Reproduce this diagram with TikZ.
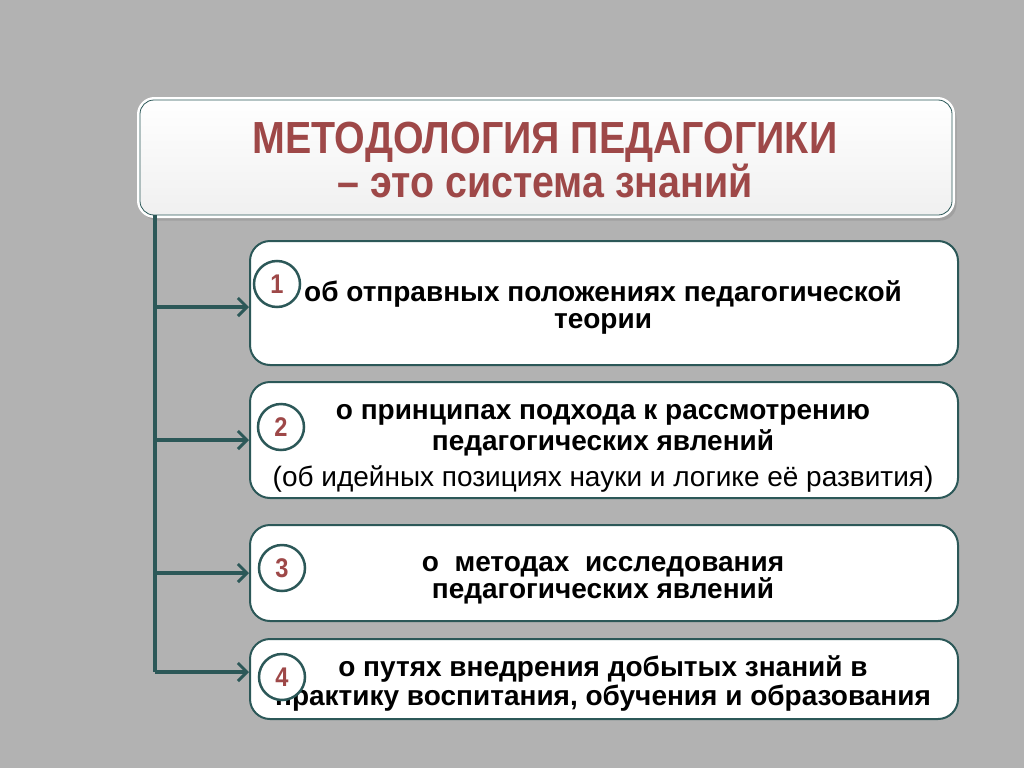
\documentclass[tikz,border=0pt]{standalone}
\usepackage{fontspec}
\setmainfont{Liberation Sans}
\newfontfamily\narrowfont[FakeStretch=0.875]{Liberation Sans}
\usetikzlibrary{arrows.meta,shadows}

\definecolor{slidegray}{RGB}{178,178,178}
\definecolor{darkteal}{RGB}{44,88,88}
\definecolor{titlered}{RGB}{158,72,72}

\begin{document}
\begin{tikzpicture}[x=1pt,y=-1pt,>={Straight Barb[length=9pt,width=18pt,line width=3pt]},
		title box/.style={draw=white,line width=3pt,rounded corners=16pt,top color=white,bottom color=black!6,
			drop shadow={shadow xshift=3pt,shadow yshift=-4pt,opacity=0.35},minimum width=815pt,minimum height=118pt,anchor=north west},
		item box/.style={draw=darkteal,line width=2pt,rounded corners=20pt,fill=white,minimum width=708pt,anchor=north west},
		item text/.style={align=center,font=\bfseries\fontsize{28}{27}\selectfont},
		num node/.style={circle,draw=darkteal,line width=2.5pt,fill=white,minimum size=46pt,inner sep=0pt,text=titlered,
			font=\narrowfont\bfseries\fontsize{27}{27}\selectfont},
		branch/.style={draw=darkteal,line width=3.5pt}]
		% background
		\fill[slidegray] (0,0) rectangle (1024,768);
		% title
		\node[title box] (title) at (137,97) {};
		\draw[darkteal,line width=0.8pt,rounded corners=14pt] ([shift={(3pt,3pt)}]title.south west) rectangle ([shift={(-3pt,-3pt)}]title.north east);
		\node[align=center,text=titlered,font=\narrowfont\bfseries\fontsize{45}{41}\selectfont] (head) at (545,160)
			{МЕТОДОЛОГИЯ ПЕДАГОГИКИ\\– это система знаний};
		% items
		\node[item box,minimum height=124pt] (b1) at (249,240) {};
		\node[item box,minimum height=116pt] (b2) at (249,381) {};
		\node[item box,minimum height=96pt] (b3) at (249,524) {};
		\node[item box,minimum height=80pt] (b4) at (249,638) {};
		\node[item text] (t1) at (603,307.5) {об отправных положениях педагогической\\теории};
		\node[item text] (t2) at (603,448) {о принципах подхода к рассмотрению\\[4pt]педагогических явлений\\[9pt]
			{\mdseries(об идейных позициях науки и логике её развития)}};
		\node[item text] (t3) at (603,580) {о\ \ методах\ \ исследования\\педагогических явлений};
		\node[item text] (t4) at (603,683) {о путях внедрения добытых знаний в\\[2pt]практику воспитания, обучения и образования};
		% numbers
		\node[num node] (n1) at (277,284) {1};
		\node[num node] (n2) at (281,427) {2};
		\node[num node] (n3) at (282,568) {3};
		\node[num node] (n4) at (282,677) {4};
		% connectors
		\coordinate (trunk) at (155,215);
		\coordinate (j1) at (155,307);
		\coordinate (j4) at (155,672);
		\draw[branch] (trunk) -- (j4);
		\draw[branch,->] (j1) -- (j1 -| b1.west);
		\draw[branch,->] (trunk |- b2.west) -- (b2.west);
		\draw[branch,->] (trunk |- b3.west) -- (b3.west);
		\draw[branch,->] (j4) -- (j4 -| b4.west);
\end{tikzpicture}
\end{document}
